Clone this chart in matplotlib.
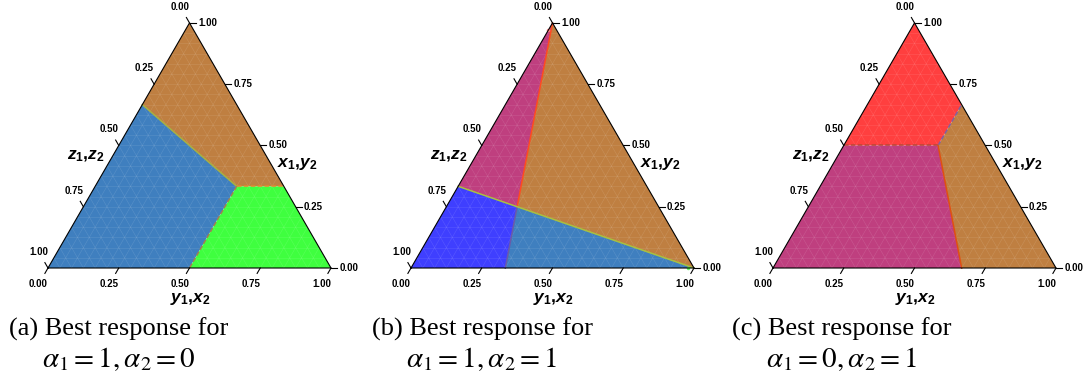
import numpy as np
import matplotlib.pyplot as plt

plt.rcParams['mathtext.fontset'] = 'custom'
plt.rcParams['mathtext.it'] = 'Liberation Sans:bold:italic'
plt.rcParams['mathtext.rm'] = 'Liberation Sans:bold'
plt.rcParams['mathtext.bf'] = 'Liberation Sans:bold'

# ternary points are (x1 top, y1 right, z1 left)
ticks = [0.0, 0.25, 0.5, 0.75, 1.0]

# panel (a): alpha1=1, alpha2=0
a_brown = [(1, 0, 0), (2/3, 0, 1/3), (1/3, 1/2, 1/6), (1/3, 2/3, 0)]
a_blue = [(2/3, 0, 1/3), (0, 0, 1), (0, 1/2, 1/2), (1/3, 1/2, 1/6)]
a_green = [(1/3, 1/2, 1/6), (0, 1/2, 1/2), (0, 1, 0), (1/3, 2/3, 0)]
a_lines = [
    ([(2/3, 0, 1/3), (1/3, 1/2, 1/6)], '#a8b040', '-'),
    ([(1/3, 1/2, 1/6), (1/3, 2/3, 0)], '#e08a30', '--'),
    ([(1/3, 1/2, 1/6), (0, 1/2, 1/2)], '#a08050', '--'),
]

# panel (b): alpha1=1, alpha2=1
b_magenta = [(1, 0, 0), (1/3, 0, 2/3), (1/4, 1/4, 1/2)]
b_brown = [(1, 0, 0), (1/4, 1/4, 1/2), (0, 1, 0)]
b_blue = [(0, 0, 1), (1/3, 0, 2/3), (1/4, 1/4, 1/2), (0, 1/3, 2/3)]
b_steel = [(1/4, 1/4, 1/2), (0, 1, 0), (0, 1/3, 2/3)]
b_lines = [
    ([(1, 0, 0), (1/4, 1/4, 1/2)], '#ff4a20', '-'),
    ([(1/4, 1/4, 1/2), (0, 1/3, 2/3)], '#6a5aa8', '-'),
    ([(1/3, 0, 2/3), (0, 1, 0)], '#a8c040', '-'),
]
b_points = [((0.97, 0.0, 0.03), '#ff8080'), ((0.0, 0.98, 0.02), '#60ff60')]

# panel (c): alpha1=0, alpha2=1
c_red = [(1, 0, 0), (1/2, 0, 1/2), (1/2, 1/3, 1/6), (2/3, 1/3, 0)]
c_magenta = [(1/2, 0, 1/2), (0, 0, 1), (0, 2/3, 1/3), (1/2, 1/3, 1/6)]
c_brown = [(1/2, 1/3, 1/6), (0, 2/3, 1/3), (0, 1, 0), (2/3, 1/3, 0)]
c_lines = [
    ([(1/2, 0, 1/2), (1/2, 1/3, 1/6)], '#b84838', '--'),
    ([(1/2, 1/3, 1/6), (2/3, 1/3, 0)], '#8060a0', '--'),
    ([(1/2, 1/3, 1/6), (0, 2/3, 1/3)], '#e05010', '-'),
]

panels = [
    ([(a_brown, '#bf7f41'), (a_blue, '#3f7fbf'), (a_green, '#3fff3f')], a_lines, []),
    ([(b_magenta, '#bf3f7f'), (b_brown, '#bf7f41'), (b_blue, '#3f3fff'), (b_steel, '#3f7fbf')], b_lines, b_points),
    ([(c_red, '#ff3f3f'), (c_magenta, '#bf3f7f'), (c_brown, '#bf7f41')], c_lines, []),
]
captions = ['(a) Best response for', '(b) Best response for', '(c) Best response for']
cap_math = [r'$\alpha_1 = 1, \alpha_2 = 0$', r'$\alpha_1 = 1, \alpha_2 = 1$', r'$\alpha_1 = 0, \alpha_2 = 1$']

W, H = 1088, 378
S = 283
base = 268
left_px = [48, 411, 773]
cap_x = [119, 482, 842]

h3 = np.sqrt(3) / 2


def cart(p):
    x, y, z = p
    return y + 0.5 * x, h3 * x


fig = plt.figure(figsize=(W / 100, H / 100), dpi=100)

for i, (regions, lines, points) in enumerate(panels):
    ax = fig.add_axes([(left_px[i] - 0.2 * S) / W, (H - base - 0.15 * S) / H,
                       1.4 * S / W, 1.1 * S / H])
    ax.set_xlim(-0.2, 1.2)
    ax.set_ylim(-0.15, 0.95)
    ax.axis('off')
    ax.patch.set_visible(False)

    for pts, col in regions:
        xy = [cart(p) for p in pts]
        ax.add_patch(plt.Polygon(xy, closed=True, facecolor=col, edgecolor='none', zorder=1))

    # faint mesh texture
    n = 24
    for k in range(1, n):
        t = k / n
        for a, b in [((t, 1 - t, 0), (t, 0, 1 - t)), ((1 - t, t, 0), (0, t, 1 - t)),
                     ((1 - t, 0, t), (0, 1 - t, t))]:
            p1, p2 = cart(a), cart(b)
            ax.plot([p1[0], p2[0]], [p1[1], p2[1]], color='white', alpha=0.13, lw=0.4, zorder=2)

    for pts, col, ls in lines:
        xy = np.array([cart(p) for p in pts])
        ax.plot(xy[:, 0], xy[:, 1], color=col, ls=ls, lw=1.1, zorder=3, dashes=(3, 1.5) if ls == '--' else (None, None))

    for p, col in points:
        cx, cy = cart(p)
        ax.plot(cx, cy, 'o', ms=2.5, color=col, mec='none', zorder=4)

    tri = np.array([cart(p) for p in [(0, 0, 1), (0, 1, 0), (1, 0, 0), (0, 0, 1)]])
    ax.plot(tri[:, 0], tri[:, 1], color='black', lw=0.8, zorder=5, solid_joinstyle='miter')

    L = 0.022
    tk = dict(color='black', lw=0.8, zorder=5, clip_on=False)
    lbl = dict(fontsize=7, family='Liberation Sans', fontweight='bold', clip_on=False)
    for v in ticks:
        lab = '%.2f' % v
        # bottom axis: y1,x2
        bx, by = v, 0.0
        ax.plot([bx, bx - 0.5 * L], [by, by - h3 * L], **tk)
        ax.text(bx - 0.034, by - 0.057, lab, ha='center', va='center', **lbl)
        # left axis: z1,z2 (0 at top)
        lx, ly = 0.5 * (1 - v), h3 * (1 - v)
        ax.plot([lx, lx - 0.5 * L], [ly, ly + h3 * L], **tk)
        ax.text(lx - 0.034, ly + 0.057, lab, ha='center', va='center', **lbl)
        # right axis: x1,y2 (1 at top)
        rx, ry = 1 - 0.5 * v, h3 * v
        ax.plot([rx, rx + L], [ry, ry], **tk)
        ax.text(rx + 0.03, ry, lab, ha='left', va='center', **lbl)

    ax.text(0.134, 0.40, r'$z_1{,}z_2$', ha='center', va='center', fontsize=12.5)
    ax.text(0.88, 0.37, r'$x_1{,}y_2$', ha='center', va='center', fontsize=12.5)
    ax.text(0.502, -0.105, r'$y_1{,}x_2$', ha='center', va='center', fontsize=12.5)

    fig.text(cap_x[i] / W, 1 - 329 / H, captions[i], ha='center', va='center',
             family='Liberation Serif', fontsize=19)
    fig.text(cap_x[i] / W, 1 - 359 / H, cap_math[i], ha='center', va='center',
             math_fontfamily='stix', fontsize=21)

fig.savefig('out.png', dpi=100)
